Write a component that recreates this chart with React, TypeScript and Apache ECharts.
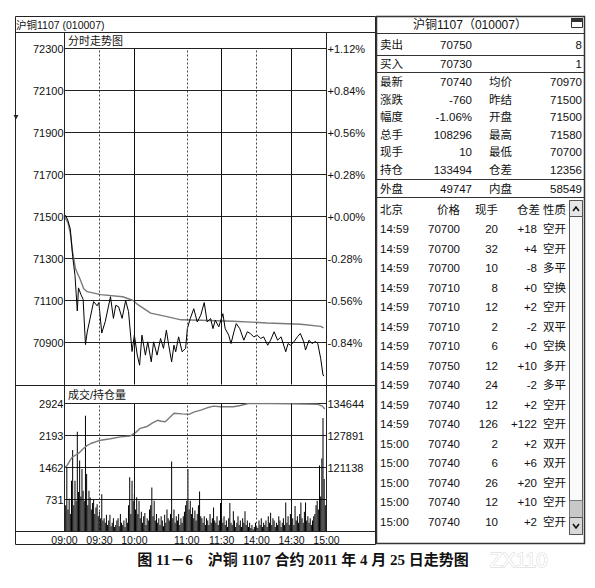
import React, { useEffect, useRef } from 'react';
import * as echarts from 'echarts';

// ---------------- data ----------------
const contractTitle = '沪铜1107 (010007)';
const quoteTitle = '沪铜1107（010007）';
const priceTitle = '分时走势图';
const volumeTitle = '成交/持仓量';
const caption = '图 11－6    沪铜 1107 合约 2011 年 4 月 25 日走势图';
const watermark = 'ZX110';

const prevSettle = 71500;
const priceMin = 70700;
const priceMax = 72300;
const priceGridValues = [70900, 71100, 71300, 71500, 71700, 71900, 72100, 72300];
const volumeMax = 2924;
const volumeStep = 731;
const oiMin = 107632;
const oiMax = 134644;
const oiTicks = [121138, 127891, 134644];
const timeTickMinutes = [0, 30, 60, 105, 135, 165, 195, 225];
const timeTickLabels = ['09:00', '09:30', '10:00', '11:00', '11:30', '14:00', '14:30', '15:00'];
const solidGridMinutes = [60, 135, 195];
const dashedGridMinutes = [30, 105, 165];

// [minute index, price]
const priceLine: [number, number][] = [
  [0, 71500], [1, 71505], [3, 71480], [5, 71440], [7, 71310], [9, 71220], [11, 71050], [12, 71160],
  [14, 71130], [16, 71105], [18, 70890], [19.5, 70950], [22, 71015], [25, 71095], [28, 71075],
  [29.5, 71090], [32, 70945], [35, 71000], [39.5, 71118], [42, 71015], [44, 71077], [46.5, 71070],
  [49.5, 71015], [52.5, 71100], [55, 71047], [58, 70857], [60, 70935], [62.5, 70840], [64.5, 70792],
  [66.5, 70935], [69.5, 70840], [71.5, 70903], [74.5, 70808], [76.5, 70903], [79.5, 70840],
  [82.5, 70919], [85, 70872], [87.5, 70959], [89.5, 70887], [92, 70808], [94, 70887], [95.5, 70856],
  [98, 70927], [101, 70856], [104, 70872], [105.5, 70966], [108, 71014], [111, 71061], [114, 70998],
  [117, 71030], [120, 71090], [122.5, 70998], [125.5, 71014], [127.5, 70966], [129.5, 71006],
  [132.5, 70975], [136, 71037], [138, 70966], [141, 70935], [143, 70895], [145.5, 70951],
  [147.5, 70990], [150.5, 70966], [154, 70911], [157, 70951], [159.5, 70943], [162.5, 70927],
  [165.5, 70935], [168.5, 70919], [171, 70927], [174.5, 70887], [177, 70911], [180, 70951],
  [183, 70911], [186, 70927], [190, 70856], [192, 70895], [194, 70887], [197, 70903], [200, 70927],
  [202.5, 70943], [205.5, 70903], [207, 70864], [210, 70911], [212.5, 70895], [215.5, 70905],
  [217.5, 70895], [220, 70824], [222, 70745], [223, 70740],
];

// [minute index, average price]
const avgLine: [number, number][] = [
  [0, 71500], [3, 71470], [5, 71420], [7, 71330], [9.5, 71250], [13.5, 71200], [16.5, 71156],
  [19.5, 71142], [31, 71128], [50, 71118], [59, 71100], [63, 71080], [74, 71040], [88, 71023],
  [100, 71008], [117, 71006], [145, 71001], [174, 70993], [203, 70987], [220, 70977], [222.5, 70970],
];

// volume per minute, minute 1..225
const volumes = [
  600, 1470, 500, 750, 400, 1160, 1860, 600, 1160, 700, 2280, 900, 1620, 800, 1430,
  930, 700, 2645, 1315, 600, 930, 774, 500, 650, 735, 400, 550, 620, 350, 450,
  300, 850, 250, 300, 200, 380, 150, 250, 380, 120, 200, 300, 100, 150, 250,
  300, 120, 400, 200, 150, 250, 100, 300, 200, 600, 1237, 400, 1160, 700, 850,
  500, 780, 400, 700, 300, 450, 200, 350, 420, 150, 300, 250, 500, 600, 1005,
  350, 700, 250, 400, 200, 300, 150, 350, 250, 120, 380, 200, 500, 300, 250,
  400, 1600, 300, 500, 200, 350, 250, 400, 150, 300, 200, 350, 450, 600, 700,
  1430, 500, 700, 400, 550, 300, 480, 250, 400, 600, 914, 350, 300, 200, 350,
  150, 300, 250, 150, 400, 200, 300, 550, 250, 200, 350, 150, 250, 650, 300,
  200, 350, 150, 250, 100, 300, 650, 200, 150, 460, 250, 100, 200, 350, 150,
  250, 100, 300, 200, 460, 150, 250, 100, 200, 80, 150, 50, 100, 200, 120,
  80, 250, 150, 300, 100, 200, 150, 250, 100, 350, 200, 430, 150, 300, 250,
  100, 200, 150, 350, 250, 100, 200, 300, 150, 660, 200, 350, 150, 400, 250,
  300, 150, 580, 250, 350, 200, 400, 660, 300, 200, 450, 660, 250, 350, 200,
  300, 150, 250, 350, 400, 600, 700, 500, 1510, 800, 1670, 2590, 1200, 600, 300,
];

// [minute index, open interest]
const openInterest: [number, number][] = [
  [0, 121138], [2, 121500], [6.5, 123300], [12, 124100], [16.5, 125200], [19, 125700], [22.5, 126200],
  [31, 126900], [39.5, 127200], [48, 127600], [56.5, 127800], [61, 128500], [65, 129400], [71, 129800],
  [76, 130600], [80, 131100], [83, 130900], [86.5, 130800], [91, 131850], [94, 132600], [101, 132450],
  [107, 132350], [111, 132820], [117, 133240], [122.5, 133740], [128, 134080], [134, 133950],
  [145, 133950], [151, 134225], [158, 134644], [174, 134644], [194, 134600], [217, 134500],
  [221.5, 134080], [223.5, 133494],
];

// quote panel
const sellRow = ['卖出', '70750', '8'];
const buyRow = ['买入', '70730', '1'];
const quoteLabelsLeft = ['最新', '涨跌', '幅度', '总手', '现手', '持仓'];
const quoteValuesLeft = ['70740', '-760', '-1.06%', '108296', '10', '133494'];
const quoteLabelsRight = ['均价', '昨结', '开盘', '最高', '最低', '仓差'];
const quoteValuesRight = ['70970', '71500', '71500', '71580', '70700', '12356'];
const outerInnerRow = ['外盘', '49747', '内盘', '58549'];

// tick-by-tick table
const tradeHeader = ['北京', '价格', '现手', '仓差', '性质'];
const tradeTimes = ['14:59', '14:59', '14:59', '14:59', '14:59', '14:59', '14:59', '14:59', '14:59', '14:59', '14:59', '15:00', '15:00', '15:00', '15:00', '15:00'];
const tradePrices = ['70700', '70700', '70700', '70710', '70710', '70710', '70710', '70750', '70740', '70740', '70740', '70740', '70740', '70740', '70740', '70740'];
const tradeVolumes = ['20', '32', '10', '8', '12', '2', '6', '12', '24', '12', '126', '2', '6', '26', '12', '10'];
const tradeOiChanges = ['+18', '+4', '-8', '+0', '+2', '-2', '+0', '+10', '-2', '+2', '+122', '+2', '+6', '+20', '+10', '+2'];
const tradeNatures = ['空开', '空开', '多平', '空换', '空开', '双平', '空换', '多开', '多平', '空开', '空开', '双开', '双开', '空开', '空开', '空开'];

// ---------------- helpers ----------------
const FAM = '"Liberation Sans", "Noto Sans CJK SC", sans-serif';
const INK = '#111';
const GRID = '#222';

function txt(text: string, x: number, y: number, align = 'left', size = 11.5, extra: any = {}) {
  return {
    type: 'text', x, y, silent: true, z: 10,
    style: { text, fill: INK, font: `${size}px ${FAM}`, textAlign: align, textVerticalAlign: 'middle', ...extra },
  };
}
function ln(x1: number, y1: number, x2: number, y2: number, color = GRID, w = 1) {
  return { type: 'line', silent: true, z: 5, shape: { x1, y1, x2, y2 }, style: { stroke: color, lineWidth: w } };
}
function box(x: number, y: number, w: number, h: number, stroke = GRID, fill = 'none', lw = 1) {
  return { type: 'rect', silent: true, z: 5, shape: { x, y, width: w, height: h }, style: { stroke, fill, lineWidth: lw } };
}

const pct = (v: number) => {
  const d = ((v - prevSettle) / prevSettle) * 100;
  return (d >= -1e-9 ? '+' : '-') + Math.abs(d).toFixed(2) + '%';
};

// layout (pixels)
const PRICE_TOP = 48.5;
const PRICE_H = 336;
const VOL_TOP = 403.5;
const VOL_H = 128;
const PLOT_L = 64.5;
const PLOT_W = 262;

function buildGraphic() {
  const g: any[] = [];
  const priceBottom = PRICE_TOP + PRICE_H;
  const volBottom = VOL_TOP + VOL_H;
  // left chart frame
  g.push(box(15.5, 16.5, 360, 528));
  g.push(ln(15.5, 32.5, 375.5, 32.5));
  g.push(ln(15.5, priceBottom + 1, 375.5, priceBottom + 1));
  g.push(ln(15.5, volBottom, 375.5, volBottom));
  g.push(ln(PLOT_L, 32.5, PLOT_L, volBottom));
  g.push(ln(PLOT_L + PLOT_W, 32.5, PLOT_L + PLOT_W, volBottom));
  g.push(txt(contractTitle, 16, 24.5, 'left', 10.5));
  g.push(txt(priceTitle, 68, 40.5, 'left', 11));
  g.push(txt(volumeTitle, 68, 394.5, 'left', 11));
  g.push({ type: 'polygon', silent: true, shape: { points: [[13.5, 115], [18.5, 115], [16, 119.5]] }, style: { fill: '#222' } });

  // right quote panel
  const L = 376.5, Rr = 584.5;
  g.push(box(L, 16.5, Rr - L, 527, '#333', 'none', 1.5));
  [33.5, 55.5, 72.5, 179.5, 197.5].forEach((y) => g.push(ln(L, y, Rr, y, '#333', 1.2)));
  g.push(txt(quoteTitle, 470, 25, 'center', 12));
  g.push(box(571.5, 18.5, 11, 9, '#333', '#fff', 1));
  g.push(box(571.5, 18.5, 11, 3, '#333', '#333', 1));

  g.push(txt(sellRow[0], 380, 45));
  g.push(txt(sellRow[1], 472, 45, 'right'));
  g.push(txt(sellRow[2], 582, 45, 'right'));
  g.push(txt(buyRow[0], 380, 64));
  g.push(txt(buyRow[1], 472, 64, 'right'));
  g.push(txt(buyRow[2], 582, 64, 'right'));
  quoteLabelsLeft.forEach((s, i) => {
    const y = 82 + i * 17.6;
    g.push(txt(s, 380, y));
    g.push(txt(quoteValuesLeft[i], 472, y, 'right'));
    g.push(txt(quoteLabelsRight[i], 489, y));
    g.push(txt(quoteValuesRight[i], 582, y, 'right'));
  });
  g.push(txt(outerInnerRow[0], 380, 188.5));
  g.push(txt(outerInnerRow[1], 472, 188.5, 'right'));
  g.push(txt(outerInnerRow[2], 489, 188.5));
  g.push(txt(outerInnerRow[3], 582, 188.5, 'right'));

  // trade table
  const hy = 210;
  g.push(txt(tradeHeader[0], 380, hy));
  g.push(txt(tradeHeader[1], 460, hy, 'right'));
  g.push(txt(tradeHeader[2], 498, hy, 'right'));
  g.push(txt(tradeHeader[3], 540, hy, 'right'));
  g.push(txt(tradeHeader[4], 543, hy));
  tradeTimes.forEach((t, i) => {
    const y = 229.3 + i * 19.5;
    g.push(txt(t, 380, y));
    g.push(txt(tradePrices[i], 460, y, 'right'));
    g.push(txt(tradeVolumes[i], 498, y, 'right'));
    g.push(txt(tradeOiChanges[i], 537, y, 'right'));
    g.push(txt(tradeNatures[i], 543, y));
  });

  // scrollbar
  g.push(box(569.5, 200.5, 13, 334, '#555', '#fafafa', 1));
  g.push(box(569.5, 200.5, 13, 16, '#555', '#e6e6e6', 1));
  g.push({ type: 'polyline', silent: true, z: 11, shape: { points: [[573, 211], [576, 207], [579, 211]] }, style: { stroke: '#111', lineWidth: 1.6, fill: 'none' } });
  g.push(box(569.5, 500.5, 13, 17, '#777', '#c8c8c8', 1));
  g.push(box(569.5, 517.5, 13, 17, '#555', '#d8d8d8', 1));
  g.push({ type: 'polyline', silent: true, z: 11, shape: { points: [[573, 524], [576, 528], [579, 524]] }, style: { stroke: '#111', lineWidth: 1.6, fill: 'none' } });

  // caption and watermark
  g.push(txt(caption, 303, 560, 'center', 15, { font: `bold 15px "Liberation Serif", "Noto Sans CJK SC", serif` }));
  g.push(txt(watermark, 490, 560, 'left', 20, { font: `20px "Liberation Sans", sans-serif`, fill: '#fff', stroke: '#d4d4d4', lineWidth: 1 }));
  return g;
}

const axisLabelBase = { color: INK, fontSize: 11, fontFamily: 'Liberation Sans' };
const plain = (v: number) => String(v);

export default function App() {
  const ref = useRef<HTMLDivElement>(null);
  useEffect(() => {
    if (!ref.current) return;
    const chart = echarts.init(ref.current, undefined, { renderer: 'svg' });
    const vGrid = [
      ...solidGridMinutes.map((m) => ({ xAxis: m, lineStyle: { color: '#111', width: 1, type: 'solid' } })),
      ...dashedGridMinutes.map((m) => ({ xAxis: m, lineStyle: { color: '#444', width: 1, type: [2, 2] } })),
    ];
    const option: any = {
      animation: false,
      backgroundColor: '#fff',
      grid: [
        { left: PLOT_L, top: PRICE_TOP, width: PLOT_W, height: PRICE_H },
        { left: PLOT_L, top: VOL_TOP, width: PLOT_W, height: VOL_H },
      ],
      xAxis: [
        {
          type: 'value', gridIndex: 0, min: 0, max: 225,
          axisLine: { show: false }, axisTick: { show: false }, axisLabel: { show: false }, splitLine: { show: false },
        },
        {
          type: 'value', gridIndex: 1, min: 0, max: 225,
          axisLine: { show: false },
          axisTick: { show: false, customValues: timeTickMinutes },
          axisLabel: {
            ...axisLabelBase, fontSize: 10.5, margin: 3, customValues: timeTickMinutes,
            formatter: (v: number) => timeTickLabels[timeTickMinutes.indexOf(v)] ?? '',
          },
          splitLine: { show: false },
        },
      ],
      yAxis: [
        {
          type: 'value', gridIndex: 0, position: 'left', min: priceMin, max: priceMax,
          axisLine: { show: false },
          axisTick: { show: false, customValues: priceGridValues },
          axisLabel: { ...axisLabelBase, margin: 1, customValues: priceGridValues, formatter: plain },
          splitLine: { show: true, lineStyle: { color: GRID, width: 1 } },
        },
        {
          type: 'value', gridIndex: 0, position: 'right', min: priceMin, max: priceMax,
          axisLine: { show: false },
          axisTick: { show: false, customValues: priceGridValues },
          axisLabel: { ...axisLabelBase, margin: 1, customValues: priceGridValues, formatter: pct },
          splitLine: { show: false },
        },
        {
          type: 'value', gridIndex: 1, position: 'left', min: 0, max: volumeMax, interval: volumeStep,
          axisLine: { show: false }, axisTick: { show: false },
          axisLabel: { ...axisLabelBase, margin: 1, formatter: (v: number) => (v === 0 ? '' : String(v)) },
          splitLine: { show: true, lineStyle: { color: GRID, width: 1 } },
        },
        {
          type: 'value', gridIndex: 1, position: 'right', min: oiMin, max: oiMax,
          axisLine: { show: false },
          axisTick: { show: false, customValues: oiTicks },
          axisLabel: { ...axisLabelBase, margin: 1, customValues: oiTicks, formatter: plain },
          splitLine: { show: false },
        },
      ],
      series: [
        {
          name: '价格', type: 'line', xAxisIndex: 0, yAxisIndex: 0, data: priceLine,
          showSymbol: false, symbol: 'none', lineStyle: { color: '#000', width: 1 }, z: 4,
          markLine: { silent: true, symbol: ['none', 'none'], label: { show: false }, data: vGrid },
        },
        {
          name: '均价', type: 'line', xAxisIndex: 0, yAxisIndex: 0, data: avgLine,
          showSymbol: false, symbol: 'none', lineStyle: { color: '#7a7a7a', width: 1.4 }, z: 3,
        },
        {
          name: '成交量', type: 'bar', xAxisIndex: 1, yAxisIndex: 2,
          data: volumes.map((v, i) => [i + 1, v]), barWidth: 1, itemStyle: { color: '#000' }, z: 3,
          markLine: { silent: true, symbol: ['none', 'none'], label: { show: false }, data: vGrid },
        },
        {
          name: '持仓量', type: 'line', xAxisIndex: 1, yAxisIndex: 3, data: openInterest,
          showSymbol: false, symbol: 'none', lineStyle: { color: '#7a7a7a', width: 1.4 }, z: 4,
        },
      ],
      graphic: buildGraphic(),
    };
    chart.setOption(option);
    return () => chart.dispose();
  }, []);
  return (
    <div
      ref={ref}
      style={{ position: 'absolute', left: 0, top: 0, width: 595, height: 588, background: '#fff' }}
    />
  );
}
